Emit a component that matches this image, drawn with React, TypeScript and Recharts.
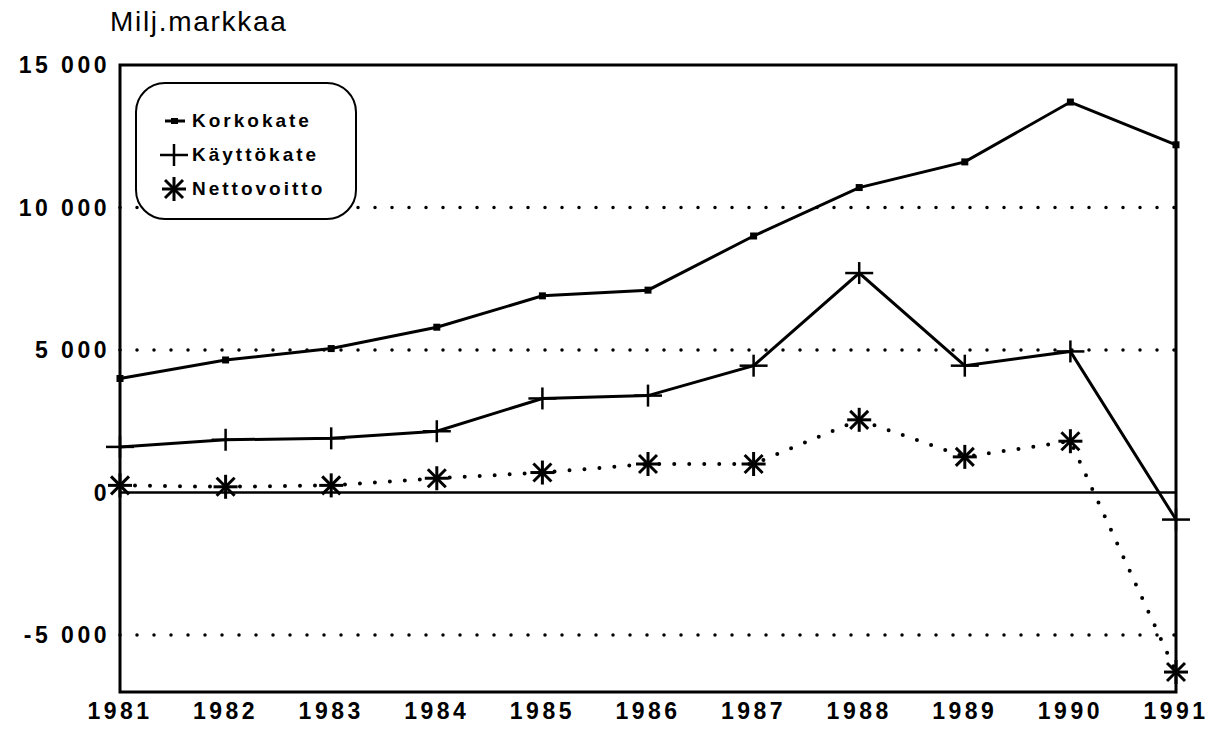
import { LineChart, Line, XAxis, YAxis, ReferenceLine, ReferenceArea, Legend } from 'recharts';

const years = ['1981', '1982', '1983', '1984', '1985', '1986', '1987', '1988', '1989', '1990', '1991'];
const korkokate = [4000, 4650, 5050, 5800, 6900, 7100, 9000, 10700, 11600, 13700, 12200];
const kayttokate = [1600, 1850, 1900, 2150, 3300, 3400, 4450, 7700, 4450, 4950, -950];
const nettovoitto = [250, 200, 250, 500, 700, 1000, 1000, 2550, 1250, 1800, -6300];

const yTicks = [-5000, 0, 5000, 10000, 15000];
const gridValues = [10000, 5000, -5000];

const data = years.map((year, i) => ({
  year,
  Korkokate: korkokate[i],
  Käyttökate: kayttokate[i],
  Nettovoitto: nettovoitto[i],
}));

const FONT = '"Liberation Sans", Arial, Helvetica, sans-serif';

const fmt = (v: number) => {
  const s = Math.abs(v).toString().replace(/\B(?=(\d{3})+(?!\d))/g, ' ');
  return v < 0 ? `-${s}` : s;
};

const SquareDot = (props: any) => {
  const { cx, cy, index } = props;
  return <rect key={`sq-${index}`} x={cx - 3.5} y={cy - 3.5} width={7} height={7} fill="#000" />;
};

const PlusDot = (props: any) => {
  const { cx, cy, index } = props;
  return (
    <g key={`pl-${index}`} stroke="#000" strokeWidth={2.5} strokeDasharray="none">
      <line x1={cx - 14} y1={cy} x2={cx + 14} y2={cy} />
      <line x1={cx} y1={cy - 11} x2={cx} y2={cy + 11} />
    </g>
  );
};

const StarDot = (props: any) => {
  const { cx, cy, index } = props;
  const r = 12;
  const d = 9;
  return (
    <g key={`st-${index}`} stroke="#000" strokeWidth={3} strokeDasharray="none" strokeLinecap="butt">
      <line x1={cx - r} y1={cy} x2={cx + r} y2={cy} />
      <line x1={cx} y1={cy - r} x2={cx} y2={cy + r} />
      <line x1={cx - d} y1={cy - d} x2={cx + d} y2={cy + d} />
      <line x1={cx - d} y1={cy + d} x2={cx + d} y2={cy - d} />
    </g>
  );
};

const legendMarker = (key: string) => {
  if (key === 'Korkokate') {
    return (
      <svg width={30} height={20}>
        <line x1={6} y1={10} x2={26} y2={10} stroke="#000" strokeWidth={3} />
        <rect x={12} y={7} width={7} height={6} fill="#000" />
      </svg>
    );
  }
  if (key === 'Käyttökate') {
    return (
      <svg width={30} height={24}>
        <PlusDot cx={15} cy={12} index={0} />
      </svg>
    );
  }
  return (
    <svg width={30} height={26}>
      <StarDot cx={15} cy={13} index={0} />
    </svg>
  );
};

const LegendBox = (props: any) => {
  const { payload } = props;
  return (
    <div
      style={{
        width: 222,
        height: 138,
        border: '2.5px solid #000',
        borderRadius: 30,
        background: '#fff',
        boxSizing: 'border-box',
        paddingTop: 20,
        paddingLeft: 22,
      }}
    >
      {(payload || []).map((entry: any) => (
        <div
          key={entry.value}
          style={{ display: 'flex', alignItems: 'center', height: 34 }}
        >
          {legendMarker(entry.value)}
          <span
            style={{
              fontFamily: FONT,
              fontWeight: 700,
              fontSize: 19,
              letterSpacing: 3,
              marginLeft: 3,
            }}
          >
            {entry.value}
          </span>
        </div>
      ))}
    </div>
  );
};

const tickStyle = { fill: '#000', fontFamily: FONT, fontWeight: 700, fontSize: 23, letterSpacing: 3.5 };

const App = () => {
  return (
    <div style={{ position: 'relative', width: 1200, height: 720 }}>
      <div
        style={{
          position: 'absolute',
          left: 102,
          top: -2,
          fontFamily: FONT,
          fontSize: 28,
          letterSpacing: 1.7,
          zIndex: 2,
        }}
      >
        Milj.markkaa
      </div>
      <LineChart
        width={1200}
        height={720}
        data={data}
        margin={{ top: 57, right: 32, left: 0, bottom: 0 }}
      >
        <XAxis
          dataKey="year"
          height={36}
          axisLine={false}
          tickLine={false}
          tickSize={0}
          tickMargin={11}
          interval={0}
          tick={tickStyle}
        />
        <YAxis
          width={112}
          domain={[-7000, 15000]}
          ticks={yTicks}
          axisLine={false}
          tickLine={false}
          tickSize={0}
          tickMargin={10}
          interval={0}
          tickFormatter={fmt}
          tick={tickStyle}
        />
        {gridValues.map((v) => (
          <ReferenceLine
            key={v}
            y={v}
            stroke="#000"
            strokeWidth={3.5}
            strokeDasharray="0 17"
            strokeLinecap="round"
          />
        ))}
        <ReferenceLine y={0} stroke="#000" strokeWidth={2.5} />
        <ReferenceArea
          x1="1981"
          x2="1991"
          y1={-7000}
          y2={15000}
          fill="none"
          stroke="#000"
          strokeWidth={3}
          fillOpacity={0}
        />
        <Line
          dataKey="Korkokate"
          stroke="#000"
          strokeWidth={3}
          dot={SquareDot}
          activeDot={false}
          isAnimationActive={false}
        />
        <Line
          dataKey="Käyttökate"
          stroke="#000"
          strokeWidth={3}
          dot={PlusDot}
          activeDot={false}
          isAnimationActive={false}
        />
        <Line
          dataKey="Nettovoitto"
          stroke="#000"
          strokeWidth={4}
          strokeDasharray="0 15"
          strokeLinecap="round"
          dot={StarDot}
          activeDot={false}
          isAnimationActive={false}
        />
        <Legend
          layout="vertical"
          align="center"
          verticalAlign="middle"
          content={LegendBox}
          wrapperStyle={{ left: 127, top: 74, width: 222, height: 138 }}
        />
      </LineChart>
    </div>
  );
};

export default App;
